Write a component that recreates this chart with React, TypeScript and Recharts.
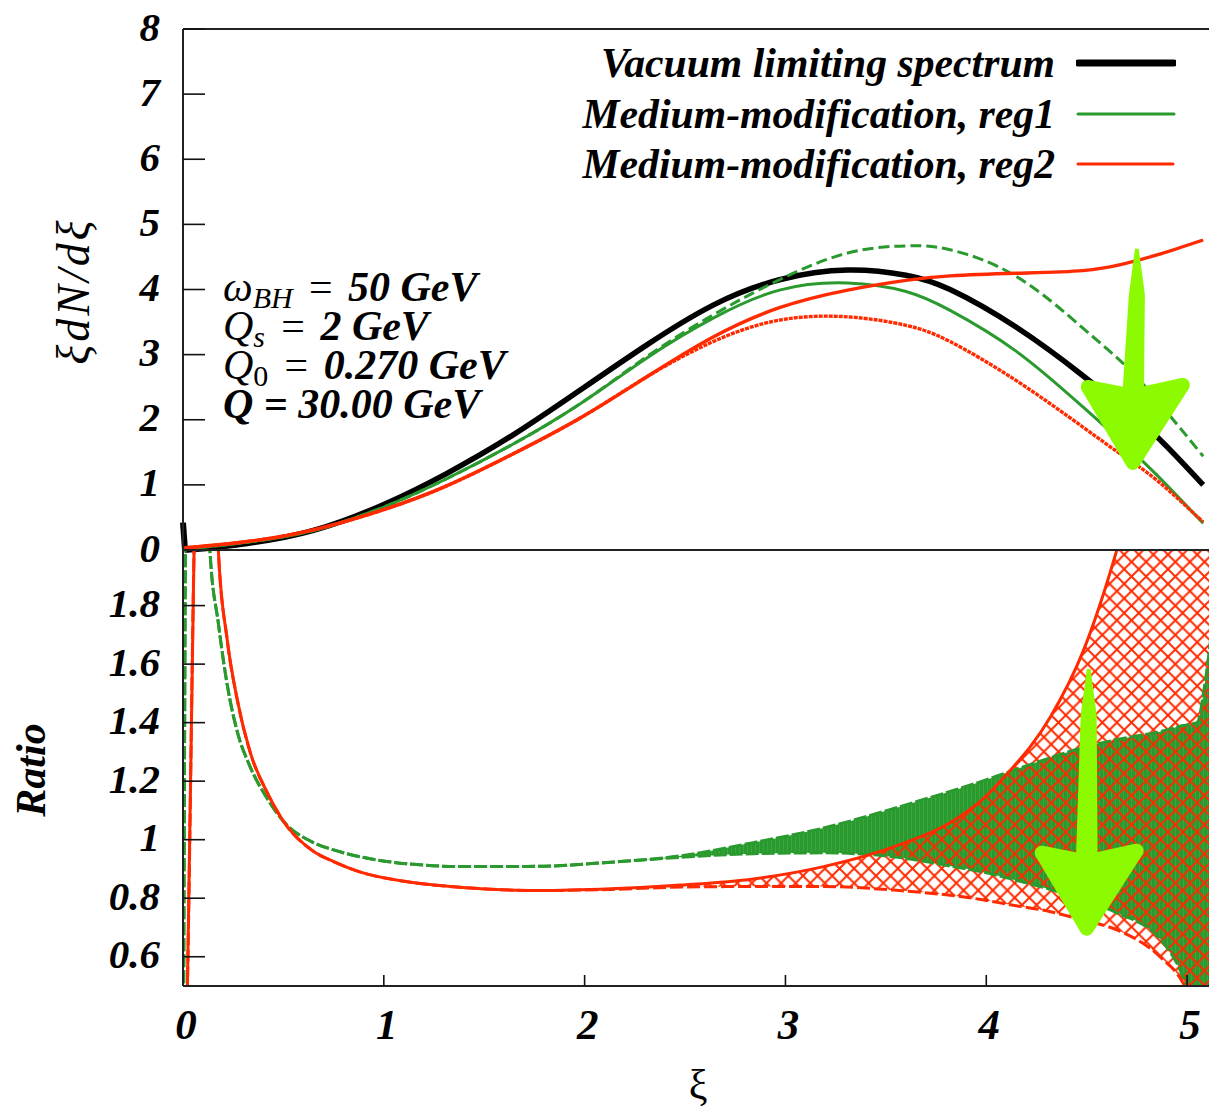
import React from "react";
import {
  Area,
  ComposedChart,
  Legend,
  Line,
  ReferenceLine,
  XAxis,
  YAxis,
} from "recharts";

const SERIF = '"Liberation Serif", serif';
const BLACK = "#000000";
const GREEN = "#2a9a2f";
const RED = "#ff2a00";
const LIME = "#8cfa00";

// upper panel: xi dN/dxi
const spectrumXi = [0, 0.01, 0.07, 0.32, 0.65, 1, 1.31, 1.64, 1.98, 2.31, 2.64, 2.97, 3.31, 3.6, 3.82, 4.15, 4.48, 4.68, 4.85, 5.08];
const vacuumSpike = [0.42, 0, null, null, null, null, null, null, null, null, null, null, null, null, null, null, null, null, null, null];
const vacuum = [null, 0, 0.01, 0.1, 0.3, 0.7, 1.17, 1.76, 2.46, 3.15, 3.76, 4.15, 4.3, 4.22, 4.0, 3.42, 2.68, 2.18, 1.74, 1.0];
const reg1Lower = [0, 0, 0.03, 0.12, 0.3, 0.66, 1.09, 1.62, 2.25, 2.95, 3.56, 3.99, 4.1, 3.97, 3.68, 3.05, 2.2, 1.65, 1.15, 0.41];
const reg1Upper = [0, 0, 0.03, 0.12, 0.3, 0.66, 1.09, 1.62, 2.25, 2.97, 3.61, 4.15, 4.56, 4.67, 4.61, 4.2, 3.41, 2.87, 2.3, 1.44];
const reg2Lower = [0.02, 0.03, 0.05, 0.13, 0.31, 0.62, 0.98, 1.47, 2.03, 2.66, 3.2, 3.53, 3.58, 3.45, 3.2, 2.6, 1.89, 1.45, 1.07, 0.43];
const reg2Upper = [0.02, 0.03, 0.05, 0.13, 0.31, 0.62, 0.98, 1.47, 2.03, 2.66, 3.27, 3.72, 3.99, 4.14, 4.21, 4.25, 4.29, 4.39, 4.53, 4.76];

// lower panel: ratio to vacuum
const ratioXi = [0.003, 0.012, 0.022, 0.055, 0.09, 0.134, 0.176, 0.22, 0.27, 0.334, 0.42, 0.5, 0.65, 0.75, 0.88, 1.11, 1.41, 1.77, 2.13, 2.48, 2.84, 3.19, 3.57, 3.82, 3.98, 4.1, 4.32, 4.48, 4.65, 4.87, 4.98, 5.02, 5.05, 5.09, 5.12];
const ratioReg1Upper = [0.4, 2.0, 3.0, 4.0, 2.9, 1.99, 1.74, 1.53, 1.37, 1.25, 1.14, 1.063, 0.99, 0.965, 0.942, 0.918, 0.908, 0.909, 0.923, 0.945, 0.99, 1.04, 1.113, 1.165, 1.2, 1.229, 1.28, 1.315, 1.342, 1.37, 1.39, 1.395, 1.4, 1.54, 1.7];
const ratioReg1Lower = [0.4, 2.0, 3.0, 4.0, 2.9, 1.99, 1.74, 1.53, 1.37, 1.25, 1.14, 1.063, 0.99, 0.965, 0.942, 0.918, 0.908, 0.909, 0.923, 0.94, 0.952, 0.955, 0.939, 0.91, 0.89, 0.87, 0.83, 0.795, 0.75, 0.658, 0.53, 0.45, 0.38, 0.3, 0.2];
const ratioReg2Upper = [0, 0.2, 0.5, 1.99, 3.0, 3.0, 1.99, 1.684, 1.479, 1.3, 1.16, 1.063, 0.96, 0.925, 0.89, 0.857, 0.836, 0.826, 0.832, 0.845, 0.866, 0.908, 0.983, 1.058, 1.137, 1.222, 1.42, 1.64, 1.99, 2.6, 2.9, 3.1, 3.3, 3.5, 3.6];
const ratioReg2Lower = [0, 0.2, 0.5, 1.99, 3.0, 3.0, 1.99, 1.684, 1.479, 1.3, 1.16, 1.063, 0.96, 0.925, 0.89, 0.857, 0.836, 0.826, 0.83, 0.838, 0.84, 0.84, 0.826, 0.81, 0.795, 0.78, 0.754, 0.725, 0.692, 0.597, 0.51, 0.45, 0.4, 0.3, 0.2];

const xiTicks = [0, 1, 2, 3, 4, 5];
const spectrumTicks = [0, 1, 2, 3, 4, 5, 6, 7, 8];
const ratioTicks = [0.6, 0.8, 1, 1.2, 1.4, 1.6, 1.8];
const legendLabels = ["Vacuum limiting spectrum", "Medium-modification, reg1", "Medium-modification, reg2"];
const XI_MAX = 5.139;
const RATIO_TOP = 1.99;

// arrows: [xi tail, value tail, xi tip, value tip]
const spectrumArrow = [4.75, 4.61, 4.73, 1.23];
const ratioArrow = [4.51, 1.58, 4.5, 0.672];

const spectrumData = spectrumXi.map((xi, i) => ({
  xi,
  vacuumSpike: vacuumSpike[i],
  vacuum: vacuum[i],
  reg1Lower: reg1Lower[i],
  reg1Upper: reg1Upper[i],
  reg2Lower: reg2Lower[i],
  reg2Upper: reg2Upper[i],
}));

const ratioData = ratioXi.map((xi, i) => ({
  xi,
  g1: ratioReg1Upper[i],
  g0: ratioReg1Lower[i],
  r1: ratioReg2Upper[i],
  r0: ratioReg2Lower[i],
}));

const tickFont = {
  fontFamily: SERIF,
  fontStyle: "italic",
  fontWeight: 700,
  fontSize: 41,
  fill: "#000",
};
const axisLine = { stroke: "#222", strokeWidth: 2 };
const tickLine = { stroke: "#111", strokeWidth: 1.6 };

function FatArrow(props: any) {
  const { x1, y1, x2, y2 } = props;
  const shaft = `${x1 - 1},${y1} ${x1 + 1},${y1} ${x1 + 7},${y1 + 45} ${x2 + 10},${y2 - 68} ${x2 - 10},${y2 - 68} ${x1 - 7},${y1 + 45}`;
  const head = `${x2},${y2 - 7} ${x2 - 45},${y2 - 83} ${x2},${y2 - 74} ${x2 + 50},${y2 - 85}`;
  return (
    <g>
      <polygon points={shaft} fill={LIME} stroke={LIME} strokeWidth={2} />
      <polygon points={head} fill={LIME} stroke={LIME} strokeWidth={14} strokeLinejoin="round" />
    </g>
  );
}

function arrowSegment(a: number[]) {
  return [
    { x: a[0], y: a[1] },
    { x: a[2], y: a[3] },
  ] as any;
}

function SpectrumLegend({ payload }: any) {
  const entries = legendLabels.map((label) => (payload ?? []).find((p: any) => p.value === label)).filter(Boolean);
  return (
    <div>
      {entries.map((entry: any) => (
        <div key={entry.value} style={{ display: "flex", alignItems: "center", height: 50.5 }}>
          <div
            style={{
              width: 495,
              textAlign: "right",
              fontFamily: SERIF,
              fontStyle: "italic",
              fontWeight: 700,
              fontSize: 41.7,
              color: "#000",
              whiteSpace: "nowrap",
            }}
          >
            {entry.value}
          </div>
          <svg width={100} height={12} style={{ marginLeft: 21 }}>
            <line
              x1={2}
              x2={98}
              y1={6}
              y2={6}
              stroke={entry.color}
              strokeWidth={entry.value.startsWith("Vacuum") ? 7 : 3}
              strokeLinecap="round"
              strokeDasharray={entry.value.endsWith("reg2") ? "3 1" : undefined}
            />
          </svg>
        </div>
      ))}
    </div>
  );
}

function AxisTitle({ px, py, text, rotate, size, italic, bold, spacing }: any) {
  return (
    <text
      x={px}
      y={py}
      transform={rotate ? `rotate(-90 ${px} ${py})` : undefined}
      textAnchor="middle"
      dominantBaseline="middle"
      fontFamily={SERIF}
      fontSize={size}
      fontStyle={italic ? "italic" : "normal"}
      fontWeight={bold ? 700 : 400}
      letterSpacing={spacing}
      fill="#000"
    >
      {text}
    </text>
  );
}

const thin: React.CSSProperties = { fontWeight: 400, padding: "0 3px" };
const subStyle: React.CSSProperties = { fontSize: 30, fontWeight: 400, verticalAlign: -7, lineHeight: 0 };

function ParamRow({ top, children }: any) {
  return (
    <div
      style={{
        position: "absolute",
        left: 223,
        top,
        height: 39,
        lineHeight: "39px",
        fontFamily: SERIF,
        fontStyle: "italic",
        fontWeight: 700,
        fontSize: 42,
        color: "#000",
        whiteSpace: "nowrap",
      }}
    >
      {children}
    </div>
  );
}

export default function App() {
  return (
    <div style={{ position: "absolute", left: 0, top: 0, width: 1209, height: 1112, overflow: "hidden", background: "#fff" }}>
      <div style={{ position: "absolute", left: 0, top: 0 }}>
        <ComposedChart width={1235} height={600} data={spectrumData} margin={{ top: 0, right: 0, bottom: 0, left: 0 }}>
          <XAxis dataKey="xi" type="number" domain={[0, XI_MAX]} ticks={xiTicks} height={50} tick={false} tickLine={false} axisLine={axisLine} />
          <XAxis xAxisId="top" orientation="top" dataKey="xi" type="number" domain={[0, XI_MAX]} ticks={xiTicks} height={29} tick={false} tickLine={false} axisLine={axisLine} />
          <YAxis
            type="number"
            domain={[0, 8]}
            ticks={spectrumTicks}
            interval={0}
            width={183}
            tickSize={-22}
            tickMargin={45}
            tick={{ ...tickFont, dy: -3 }}
            tickLine={tickLine}
            axisLine={axisLine}
            label={<AxisTitle px={78} py={291} text="ξdN/dξ" rotate size={46} italic spacing={3} />}
          />
          <YAxis yAxisId="right" orientation="right" type="number" domain={[0, 8]} ticks={spectrumTicks} interval={0} width={20} tickSize={-22} tick={false} tickLine={tickLine} axisLine={axisLine} />
          <Line legendType="none" type="linear" dataKey="vacuumSpike" stroke={BLACK} strokeWidth={6} dot={false} isAnimationActive={false} />
          <Line name={legendLabels[0]} type="natural" dataKey="vacuum" stroke={BLACK} strokeWidth={5.5} dot={false} isAnimationActive={false} />
          <Line name={legendLabels[1]} type="natural" dataKey="reg1Lower" stroke={GREEN} strokeWidth={3} dot={false} isAnimationActive={false} />
          <Line legendType="none" type="natural" dataKey="reg1Upper" stroke={GREEN} strokeWidth={3} strokeDasharray="11 5" dot={false} isAnimationActive={false} />
          <Line name={legendLabels[2]} type="natural" dataKey="reg2Lower" stroke={RED} strokeWidth={3.4} strokeDasharray="4 1" dot={false} isAnimationActive={false} />
          <Line legendType="none" type="natural" dataKey="reg2Upper" stroke={RED} strokeWidth={3.4} dot={false} isAnimationActive={false} />
          <ReferenceLine segment={arrowSegment(spectrumArrow)} shape={FatArrow} ifOverflow="visible" />
          <Legend
            layout="vertical"
            align="center"
            verticalAlign="middle"
            wrapperStyle={{ left: 560, top: 38, width: 640 }}
            content={SpectrumLegend}
          />
        </ComposedChart>
      </div>

      <div style={{ position: "absolute", left: 0, top: 540 }}>
        <ComposedChart width={1235} height={572} data={ratioData} margin={{ top: 0, right: 0, bottom: 0, left: 0 }}>
          <defs>
            <pattern id="reg1Hatch" width={4} height={4} patternUnits="userSpaceOnUse">
              <rect width={4} height={4} fill="#3aa63f" />
              <rect width={3} height={4} fill={GREEN} />
            </pattern>
            <pattern id="reg2Hatch" width={14.6} height={14.6} patternUnits="userSpaceOnUse">
              <path d="M0 0L14.6 14.6M14.6 0L0 14.6" stroke={RED} strokeWidth={2} fill="none" />
            </pattern>
          </defs>
          <XAxis
            dataKey="xi"
            type="number"
            domain={[0, XI_MAX]}
            ticks={xiTicks}
            interval={0}
            height={126}
            tickSize={-11}
            tickMargin={33}
            tick={{ ...tickFont, fontSize: 43, dx: 3 }}
            tickLine={tickLine}
            axisLine={axisLine}
            label={<AxisTitle px={698} py={549} text="ξ" size={42} />}
          />
          <XAxis xAxisId="top" orientation="top" dataKey="xi" type="number" domain={[0, XI_MAX]} ticks={xiTicks} interval={0} height={10} tickSize={-11} tick={false} tickLine={tickLine} axisLine={axisLine} />
          <YAxis
            type="number"
            domain={[0.5, RATIO_TOP]}
            allowDataOverflow
            ticks={ratioTicks}
            interval={0}
            width={183}
            tickSize={-22}
            tickMargin={45}
            tick={{ ...tickFont, dy: -3 }}
            tickLine={tickLine}
            axisLine={axisLine}
            label={<AxisTitle px={35} py={230} text="Ratio" rotate size={42} italic bold />}
          />
          <YAxis yAxisId="right" orientation="right" type="number" domain={[0.5, RATIO_TOP]} ticks={ratioTicks} interval={0} width={20} tickSize={-22} tick={false} tickLine={tickLine} axisLine={axisLine} />
          <Area type="monotone" dataKey={(d: any) => [d.g0, d.g1]} stroke="none" fill="url(#reg1Hatch)" fillOpacity={1} dot={false} isAnimationActive={false} />
          <Line type="monotone" dataKey="g1" stroke={GREEN} strokeWidth={3} strokeDasharray="13 3" dot={false} isAnimationActive={false} />
          <Line type="monotone" dataKey="g0" stroke={GREEN} strokeWidth={3} strokeDasharray="13 3" dot={false} isAnimationActive={false} />
          <Area type="monotone" dataKey={(d: any) => [d.r0, d.r1]} stroke="none" fill="url(#reg2Hatch)" fillOpacity={1} dot={false} isAnimationActive={false} />
          <Line type="monotone" dataKey="r1" stroke={RED} strokeWidth={3} dot={false} isAnimationActive={false} />
          <Line type="monotone" dataKey="r0" stroke={RED} strokeWidth={3} strokeDasharray="13 4" dot={false} isAnimationActive={false} />
          <ReferenceLine segment={arrowSegment(ratioArrow)} shape={FatArrow} ifOverflow="visible" />
        </ComposedChart>
      </div>

      <ParamRow top={268}>
        <span style={{ fontWeight: 400 }}>ω</span>
        <span style={subStyle}>BH</span>
        <span style={thin}> = </span>50 GeV
      </ParamRow>
      <ParamRow top={307}>
        <span style={{ fontWeight: 400 }}>Q</span>
        <span style={subStyle}>s</span>
        <span style={thin}> = </span>2 GeV
      </ParamRow>
      <ParamRow top={346}>
        <span style={{ fontWeight: 400 }}>Q</span>
        <span style={{ ...subStyle, fontStyle: "normal" }}>0</span>
        <span style={thin}> = </span>0.270 GeV
      </ParamRow>
      <ParamRow top={385}>Q = 30.00 GeV</ParamRow>
    </div>
  );
}
